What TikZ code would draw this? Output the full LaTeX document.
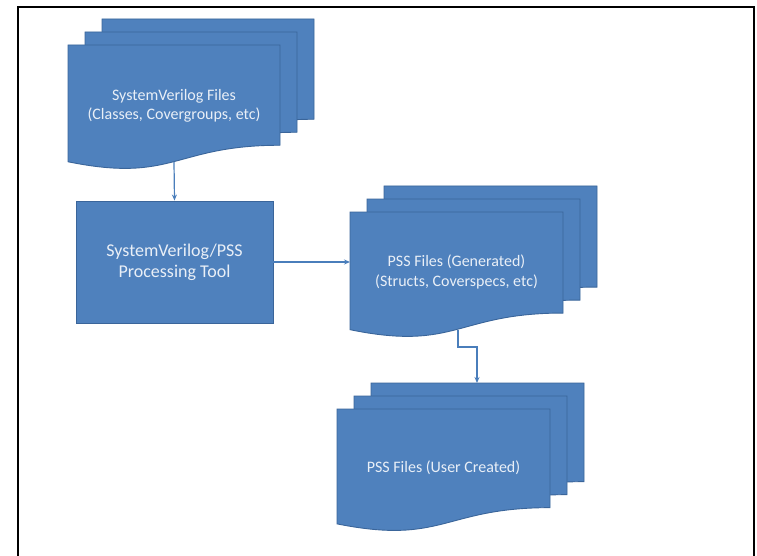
\documentclass[tikz,border=0pt]{standalone}
\usepackage{fontspec}
\setmainfont{Carlito}
\usetikzlibrary{arrows.meta}
\definecolor{docfill}{HTML}{4F81BD}
\definecolor{docedge}{HTML}{3A659A}
\definecolor{doctext}{HTML}{E9EFF7}
\definecolor{conncol}{HTML}{4A7EBB}
\tikzset{
  docstyle/.style={fill=docfill, draw=docedge, line width=0.9pt},
  doclabel/.style={text=doctext, font=\fontsize{16}{19.5}\selectfont, align=center},
  toolbox/.style={fill=docfill, draw=docedge, line width=0.9pt, text=doctext,
     font=\fontsize{18}{21}\selectfont, align=center, inner sep=0pt,
     minimum width=197pt, minimum height=122pt},
  conn/.style={draw=conncol, line width=1.2pt, -{Stealth[length=6pt,width=5pt]}},
  frameline/.style={draw=black, line width=1.3pt}
}
% document page: left, top, width, height
\newcommand{\docpage}[4]{%
  \begin{scope}[shift={(#1,#2)}, x=#3pt, y=-#4pt]
    \path[docstyle] (0,0) -- (1,0) -- (1,0.802)
      .. controls (0.5,0.802) and (0.5,1.107) .. (0,0.934) -- cycle;
  \end{scope}}
\newcommand{\docstack}[4]{%
  \docpage{#1+34}{#2-26}{#3}{#4}%
  \docpage{#1+17}{#2-13}{#3}{#4}%
  \docpage{#1}{#2}{#3}{#4}}
\begin{document}
\begin{tikzpicture}[x=1pt, y=-1pt]
  \useasboundingbox (0,0) rectangle (757,556);
  \fill[white] (0,0) rectangle (757,556);
  % frame
  \draw[frameline] (18,556) -- (18,7) -- (754,7) -- (754,556);

  % SystemVerilog files
  \docstack{68}{45}{212}{125}
  \node[doclabel] (sv) at (174,106) {SystemVerilog Files\\(Classes, Covergroups, etc)};
  \coordinate (svb) at (174,162);

  % processing tool
  \node[toolbox] (tool) at (174.5,262) {SystemVerilog/PSS\\Processing Tool};

  % PSS generated
  \docstack{350}{212}{213}{126}
  \node[doclabel] (gen) at (456.5,272) {PSS Files (Generated)\\(Structs, Coverspecs, etc)};
  \coordinate (genl) at (350,262);
  \coordinate (genb) at (458,330);

  % PSS user created
  \docstack{337}{409}{213}{123}
  \node[doclabel] (user) at (443.5,468) {PSS Files (User Created)};
  \coordinate (usert) at (477,383);

  % connectors
  \draw[conn] (svb) -- (tool.north);
  \draw[conn] (tool.east) -- (genl);
  \draw[conn] (genb) -- ++(0,17) -| (usert);
\end{tikzpicture}
\end{document}
